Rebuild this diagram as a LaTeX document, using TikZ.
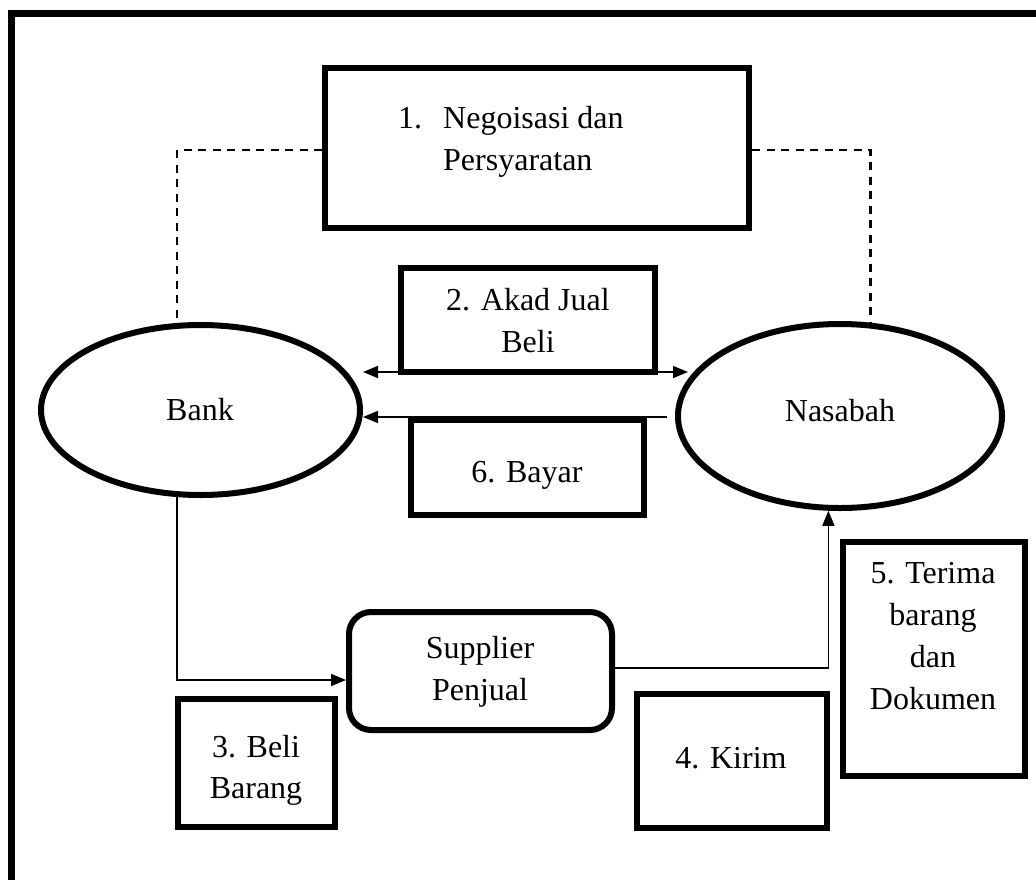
\documentclass[tikz,border=0pt]{standalone}
\usepackage{fontspec}
\setmainfont{Liberation Serif}
\usetikzlibrary{shapes.geometric,arrows.meta}
\begin{document}
\begin{tikzpicture}[x=1pt,y=-1pt,
  lbl/.style={font=\fontsize{32}{42}\selectfont, inner sep=0pt, anchor=base},
  boxn/.style={draw, line width=6pt, rectangle, inner sep=0pt},
  ell/.style={draw, line width=6pt, ellipse, inner sep=0pt},
  conn/.style={line width=1.6pt, -{Triangle[length=15pt,width=12pt]}},
  dconn/.style={line width=1.6pt, {Triangle[length=15pt,width=12pt]}-{Triangle[length=15pt,width=12pt]}},
  dashline/.style={line width=2.6pt, dash pattern=on 8pt off 6.5pt}]
\useasboundingbox (0,0) rectangle (1036,879);
\fill[white] (0,0) rectangle (1036,879);
% outer frame (only top and left visible)
\draw[line width=7pt, line join=miter] (11.5,900) -- (11.5,13) -- (1060,13);

% shapes
\node[boxn, minimum width=424pt, minimum height=160pt] (b1) at (537,148) {};
\node[boxn, minimum width=254pt, minimum height=104pt] (b2) at (528,320) {};
\node[boxn, minimum width=233pt, minimum height=95pt] (b6) at (527.5,467.5) {};
\node[boxn, minimum width=157pt, minimum height=128pt] (b3) at (256.5,763) {};
\node[boxn, minimum width=190pt, minimum height=134pt] (b4) at (732,761) {};
\node[boxn, minimum width=182pt, minimum height=234pt] (b5) at (934,659) {};
\node[boxn, rounded corners=22pt, minimum width=263pt, minimum height=118pt] (sup) at (480.5,671) {};
\node[ell, minimum width=319pt, minimum height=170pt] (bank) at (200.5,410) {};
\node[ell, minimum width=324pt, minimum height=184pt] (nas) at (840,416) {};

% texts
\node[lbl, anchor=base west] (t1n) at (398,128) {1.};
\node[lbl, anchor=base west] (t1a) at (443,128) {Negoisasi dan};
\node[lbl, anchor=base west] (t1b) at (443,170) {Persyaratan};
\node[lbl] (t2a) at (528,310) {2. Akad Jual};
\node[lbl] (t2b) at (528,352) {Beli};
\node[lbl] (t6) at (527,482) {6. Bayar};
\node[lbl] (t3a) at (256,757) {3. Beli};
\node[lbl] (t3b) at (256,798) {Barang};
\node[lbl] (t4) at (731,768) {4. Kirim};
\node[lbl] (t5a) at (933,583) {5. Terima};
\node[lbl] (t5b) at (933,625) {barang};
\node[lbl] (t5c) at (933,667) {dan};
\node[lbl] (t5d) at (933,709) {Dokumen};
\node[lbl] (tsa) at (480,658) {Supplier};
\node[lbl] (tsb) at (480,700) {Penjual};
\node[lbl] (tbank) at (200,420) {Bank};
\node[lbl] (tnas) at (840,421) {Nasabah};

% connectors
\draw[dashline] ([yshift=-2pt]b1.west) -| (bank.105);
\draw[dashline] ([yshift=-2pt]b1.east) -| (nas.72);
\draw[dconn] ([yshift=38pt]bank.east) -- ([yshift=44pt,xshift=13pt]nas.west);
\draw[conn] ([xshift=-8pt,yshift=-1pt]nas.west) -- ([yshift=-7pt]bank.east);
\draw[conn] (bank.255) |- ([yshift=-9pt]sup.west);
\draw[conn] ([yshift=3pt]sup.east) -| (nas.263);
\end{tikzpicture}
\end{document}
